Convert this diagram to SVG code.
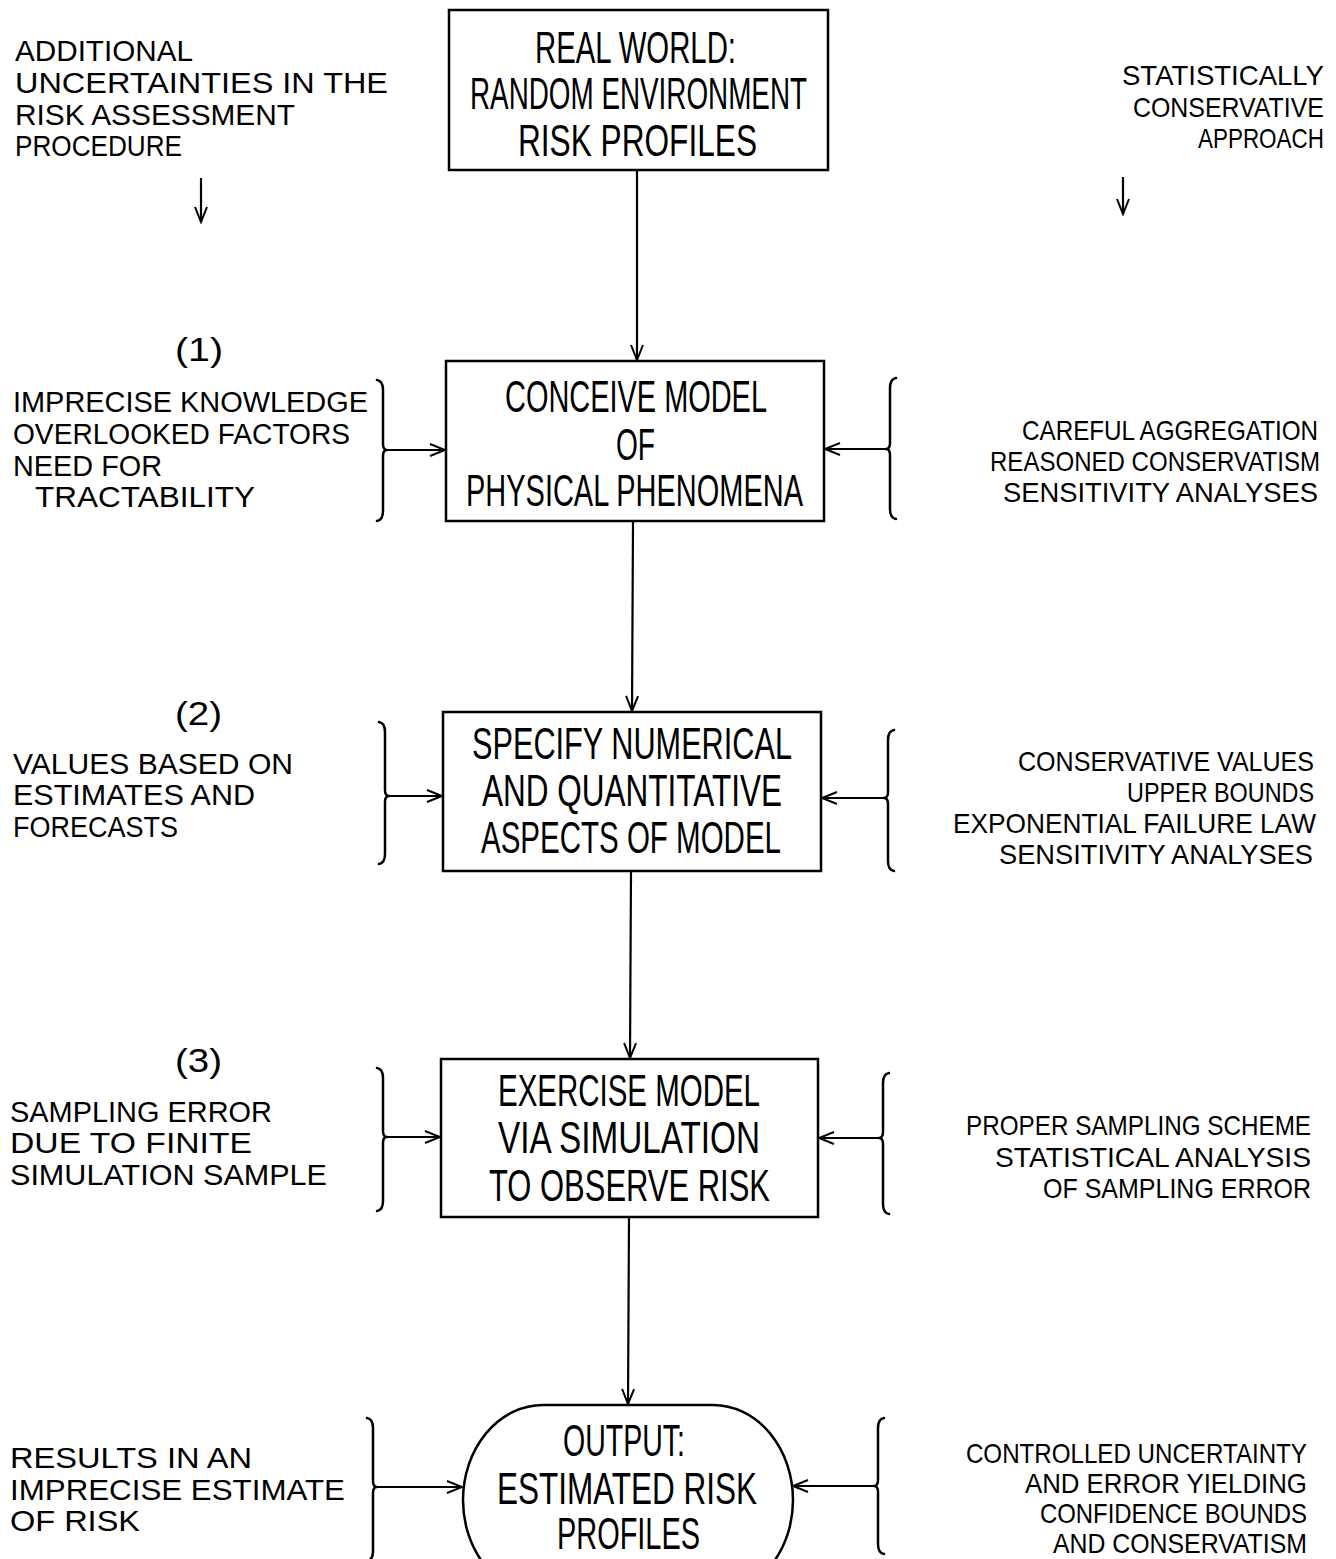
<svg xmlns="http://www.w3.org/2000/svg" width="1336" height="1559" viewBox="0 0 1336 1559">
<style>
.box{fill:#fff;stroke:#000;stroke-width:2.5}
.ln{fill:none;stroke:#000;stroke-width:2.2}
.br{fill:none;stroke:#000;stroke-width:2.5;stroke-linecap:round;stroke-linejoin:round}
.bt{font-family:"Liberation Sans Narrow","Liberation Sans",sans-serif;font-size:44px;fill:#000}
.lt{font-family:"Liberation Sans",sans-serif;font-size:30px;fill:#000}
.nt{font-family:"Liberation Sans",sans-serif;font-size:34px;fill:#000}
.rt{font-family:"Liberation Sans",sans-serif;font-size:28px;fill:#000;text-anchor:end}
</style>
<defs>
<marker id="ah" markerUnits="userSpaceOnUse" markerWidth="18" markerHeight="14" refX="16" refY="7" orient="auto" viewBox="0 0 18 14">
<path d="M1,1 L16,7 L1,13" fill="none" stroke="#000" stroke-width="2"/>
</marker>
</defs>
<rect width="1336" height="1559" fill="#fff"/>

<g id="connectors">
<line class="ln" x1="637" y1="171" x2="637" y2="360" marker-end="url(#ah)"/>
<line class="ln" x1="633" y1="522" x2="632" y2="711" marker-end="url(#ah)"/>
<line class="ln" x1="631" y1="872" x2="630" y2="1058" marker-end="url(#ah)"/>
<line class="ln" x1="629" y1="1218" x2="628" y2="1404" marker-end="url(#ah)"/>
<line class="ln" x1="201" y1="178" x2="201" y2="222" marker-end="url(#ah)"/>
<line class="ln" x1="1123" y1="177" x2="1123" y2="214" marker-end="url(#ah)"/>
<line class="ln" x1="386" y1="450" x2="445" y2="450" marker-end="url(#ah)"/>
<line class="ln" x1="887" y1="449" x2="825" y2="449" marker-end="url(#ah)"/>
<line class="ln" x1="388" y1="796" x2="442" y2="796" marker-end="url(#ah)"/>
<line class="ln" x1="885" y1="798" x2="822" y2="798" marker-end="url(#ah)"/>
<line class="ln" x1="386" y1="1137" x2="440" y2="1137" marker-end="url(#ah)"/>
<line class="ln" x1="880" y1="1138" x2="819" y2="1138" marker-end="url(#ah)"/>
<line class="ln" x1="376" y1="1487" x2="462" y2="1487" marker-end="url(#ah)"/>
<line class="ln" x1="875" y1="1486" x2="793" y2="1486" marker-end="url(#ah)"/>
</g>

<g id="brackets">
<path class="br" d="M377,380 Q383,381 383,390 L383,444 Q383,450 387,450 Q383,450 383,456 L383,511 Q383,520 377,521"/>
<path class="br" d="M896,378 Q890,379 890,388 L890,443 Q890,449 886,449 Q890,449 890,455 L890,509 Q890,518 896,519"/>
<path class="br" d="M379,722 Q385,723 385,732 L385,790 Q385,796 389,796 Q385,796 385,802 L385,854 Q385,863 379,864"/>
<path class="br" d="M894,730 Q888,731 888,740 L888,792 Q888,798 884,798 Q888,798 888,804 L888,861 Q888,870 894,871"/>
<path class="br" d="M377,1068 Q383,1069 383,1078 L383,1131 Q383,1137 387,1137 Q383,1137 383,1143 L383,1201 Q383,1210 377,1211"/>
<path class="br" d="M889,1073 Q883,1074 883,1083 L883,1132 Q883,1138 879,1138 Q883,1138 883,1144 L883,1204 Q883,1213 889,1214"/>
<path class="br" d="M367,1418 Q373,1419 373,1428 L373,1481 Q373,1487 377,1487 Q373,1487 373,1493 L373,1552 Q373,1559 367,1562"/>
<path class="br" d="M884,1418 Q878,1419 878,1428 L878,1480 Q878,1486 874,1486 Q878,1486 878,1492 L878,1544 Q878,1553 884,1554"/>
</g>

<g id="n-real-world">
<rect class="box" x="449" y="10" width="379" height="160"/>
<text class="bt" x="535" y="63" textLength="201" lengthAdjust="spacingAndGlyphs">REAL WORLD:</text>
<text class="bt" x="470" y="109" textLength="337" lengthAdjust="spacingAndGlyphs">RANDOM ENVIRONMENT</text>
<text class="bt" x="518" y="156" textLength="239" lengthAdjust="spacingAndGlyphs">RISK PROFILES</text>
</g>

<g id="n-conceive">
<rect class="box" x="446" y="361" width="378" height="160"/>
<text class="bt" x="505" y="412" textLength="262" lengthAdjust="spacingAndGlyphs">CONCEIVE MODEL</text>
<text class="bt" x="616" y="460" textLength="39" lengthAdjust="spacingAndGlyphs">OF</text>
<text class="bt" x="466" y="506" textLength="337" lengthAdjust="spacingAndGlyphs">PHYSICAL PHENOMENA</text>
</g>

<g id="n-specify">
<rect class="box" x="443" y="712" width="378" height="159"/>
<text class="bt" x="472" y="759" textLength="320" lengthAdjust="spacingAndGlyphs">SPECIFY NUMERICAL</text>
<text class="bt" x="482" y="806" textLength="300" lengthAdjust="spacingAndGlyphs">AND QUANTITATIVE</text>
<text class="bt" x="481" y="853" textLength="300" lengthAdjust="spacingAndGlyphs">ASPECTS OF MODEL</text>
</g>

<g id="n-exercise">
<rect class="box" x="441" y="1059" width="377" height="158"/>
<text class="bt" x="498" y="1106" textLength="262" lengthAdjust="spacingAndGlyphs">EXERCISE MODEL</text>
<text class="bt" x="498" y="1153" textLength="262" lengthAdjust="spacingAndGlyphs">VIA SIMULATION</text>
<text class="bt" x="489" y="1201" textLength="281" lengthAdjust="spacingAndGlyphs">TO OBSERVE RISK</text>
</g>

<g id="n-output">
<rect class="box" x="463" y="1405" width="330" height="190" rx="80" ry="95"/>
<text class="bt" x="563" y="1456" textLength="122" lengthAdjust="spacingAndGlyphs">OUTPUT:</text>
<text class="bt" x="497" y="1504" textLength="260" lengthAdjust="spacingAndGlyphs">ESTIMATED RISK</text>
<text class="bt" x="557" y="1549" textLength="143" lengthAdjust="spacingAndGlyphs">PROFILES</text>
</g>

<g id="left-notes">
<text class="lt" x="15" y="61" textLength="178" lengthAdjust="spacingAndGlyphs">ADDITIONAL</text>
<text class="lt" x="15" y="93" textLength="373" lengthAdjust="spacingAndGlyphs">UNCERTAINTIES IN THE</text>
<text class="lt" x="15" y="125" textLength="280" lengthAdjust="spacingAndGlyphs">RISK ASSESSMENT</text>
<text class="lt" x="15" y="156" textLength="167" lengthAdjust="spacingAndGlyphs">PROCEDURE</text>
<text class="nt" x="175" y="361" textLength="48" lengthAdjust="spacingAndGlyphs">(1)</text>
<text class="lt" x="13" y="412" textLength="355" lengthAdjust="spacingAndGlyphs">IMPRECISE KNOWLEDGE</text>
<text class="lt" x="13" y="444" textLength="337" lengthAdjust="spacingAndGlyphs">OVERLOOKED FACTORS</text>
<text class="lt" x="13" y="476" textLength="149" lengthAdjust="spacingAndGlyphs">NEED FOR</text>
<text class="lt" x="35" y="507" textLength="220" lengthAdjust="spacingAndGlyphs">TRACTABILITY</text>
<text class="nt" x="175" y="725" textLength="47" lengthAdjust="spacingAndGlyphs">(2)</text>
<text class="lt" x="13" y="774" textLength="280" lengthAdjust="spacingAndGlyphs">VALUES BASED ON</text>
<text class="lt" x="13" y="805" textLength="242" lengthAdjust="spacingAndGlyphs">ESTIMATES AND</text>
<text class="lt" x="13" y="837" textLength="165" lengthAdjust="spacingAndGlyphs">FORECASTS</text>
<text class="nt" x="175" y="1072" textLength="47" lengthAdjust="spacingAndGlyphs">(3)</text>
<text class="lt" x="10" y="1122" textLength="262" lengthAdjust="spacingAndGlyphs">SAMPLING ERROR</text>
<text class="lt" x="10" y="1153" textLength="242" lengthAdjust="spacingAndGlyphs">DUE TO FINITE</text>
<text class="lt" x="10" y="1185" textLength="317" lengthAdjust="spacingAndGlyphs">SIMULATION SAMPLE</text>
<text class="lt" x="10" y="1468" textLength="242" lengthAdjust="spacingAndGlyphs">RESULTS IN AN</text>
<text class="lt" x="10" y="1500" textLength="335" lengthAdjust="spacingAndGlyphs">IMPRECISE ESTIMATE</text>
<text class="lt" x="10" y="1531" textLength="130" lengthAdjust="spacingAndGlyphs">OF RISK</text>
</g>

<g id="right-notes" transform="scale(0.85,1)">
<text class="rt" x="1557.6" y="85" textLength="237.6" lengthAdjust="spacingAndGlyphs">STATISTICALLY</text>
<text class="rt" x="1557.6" y="117" textLength="224.7" lengthAdjust="spacingAndGlyphs">CONSERVATIVE</text>
<text class="rt" x="1557.6" y="148" textLength="148.2" lengthAdjust="spacingAndGlyphs">APPROACH</text>
<text class="rt" x="1550.6" y="440" textLength="348.2" lengthAdjust="spacingAndGlyphs">CAREFUL AGGREGATION</text>
<text class="rt" x="1552.9" y="471" textLength="388.2" lengthAdjust="spacingAndGlyphs">REASONED CONSERVATISM</text>
<text class="rt" x="1550.6" y="502" textLength="370.6" lengthAdjust="spacingAndGlyphs">SENSITIVITY ANALYSES</text>
<text class="rt" x="1545.9" y="771" textLength="348.2" lengthAdjust="spacingAndGlyphs">CONSERVATIVE VALUES</text>
<text class="rt" x="1545.9" y="802" textLength="220" lengthAdjust="spacingAndGlyphs">UPPER BOUNDS</text>
<text class="rt" x="1548.2" y="833" textLength="427.1" lengthAdjust="spacingAndGlyphs">EXPONENTIAL FAILURE LAW</text>
<text class="rt" x="1544.7" y="864" textLength="369.4" lengthAdjust="spacingAndGlyphs">SENSITIVITY ANALYSES</text>
<text class="rt" x="1542.4" y="1135" textLength="405.9" lengthAdjust="spacingAndGlyphs">PROPER SAMPLING SCHEME</text>
<text class="rt" x="1542.4" y="1167" textLength="371.8" lengthAdjust="spacingAndGlyphs">STATISTICAL ANALYSIS</text>
<text class="rt" x="1542.4" y="1198" textLength="315.3" lengthAdjust="spacingAndGlyphs">OF SAMPLING ERROR</text>
<text class="rt" x="1537.6" y="1463" textLength="401.2" lengthAdjust="spacingAndGlyphs">CONTROLLED UNCERTAINTY</text>
<text class="rt" x="1537.6" y="1493" textLength="331.8" lengthAdjust="spacingAndGlyphs">AND ERROR YIELDING</text>
<text class="rt" x="1537.6" y="1523" textLength="314.1" lengthAdjust="spacingAndGlyphs">CONFIDENCE BOUNDS</text>
<text class="rt" x="1537.6" y="1553" textLength="298.8" lengthAdjust="spacingAndGlyphs">AND CONSERVATISM</text>
</g>
</svg>
